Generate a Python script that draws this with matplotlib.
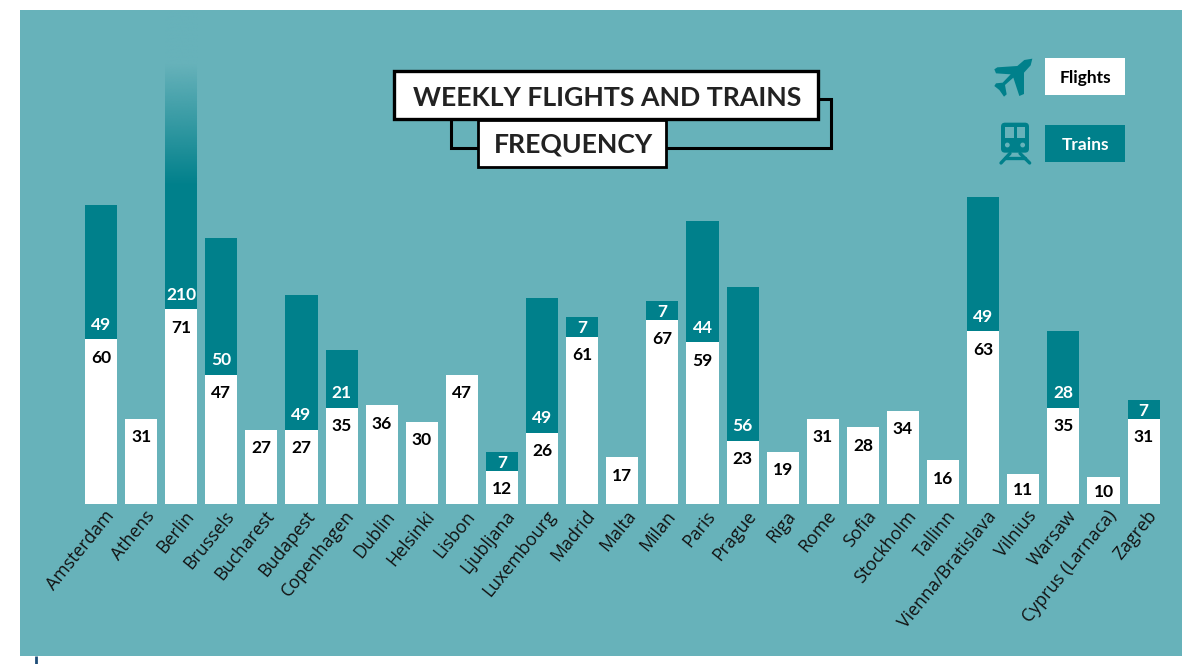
import numpy as np
import matplotlib
matplotlib.use("Agg")
import matplotlib.pyplot as plt
from matplotlib.patches import Rectangle, Polygon, FancyBboxPatch, Circle
from matplotlib.transforms import ScaledTranslation

cities = ["Amsterdam", "Athens", "Berlin", "Brussels", "Bucharest", "Budapest", "Copenhagen",
          "Dublin", "Helsinki", "Lisbon", "Ljubljana", "Luxembourg", "Madrid", "Malta", "Milan",
          "Paris", "Prague", "Riga", "Rome", "Sofia", "Stockholm", "Tallinn", "Vienna/Bratislava",
          "Vilnius", "Warsaw", "Cyprus (Larnaca)", "Zagreb"]
flights = [60, 31, 71, 47, 27, 27, 35, 36, 30, 47, 12, 26, 61, 17, 67, 59, 23, 19, 31, 28, 34, 16, 63, 11, 35, 10, 31]
trains = [49, 0, 210, 50, 0, 49, 21, 0, 0, 0, 7, 49, 7, 0, 7, 44, 56, 0, 0, 0, 0, 0, 49, 0, 28, 0, 7]

BG = "#67B2BA"
TEAL = "#00808B"
BOLD = "Lato"
W, H = 1182, 664
fig = plt.figure(figsize=(W / 100, H / 100), dpi=100, facecolor="white")

PX_UNIT, STEP, X0, BASE = 2.745, 40.1, 101, 504
ax = fig.add_axes([20 / W, 1 - 656 / H, (W - 20) / W, 646 / H], facecolor=BG)
xlim = ((20 - X0) / STEP, (W - X0) / STEP)
ylim = ((BASE - 656) / PX_UNIT, (BASE - 10) / PX_UNIT)
x = np.arange(len(cities))
ax.bar(x, flights, width=0.8, color="white", zorder=2)
ax.bar(x, trains, width=0.8, bottom=flights, color=TEAL, zorder=2)

# fade-out of the cut-off Berlin bar
berlin = cities.index("Berlin")
fade = np.zeros((256, 1, 4))
fade[..., :3] = matplotlib.colors.to_rgb(BG)
ys = np.linspace(ylim[1], 116, 256)
fade[:, 0, 3] = np.clip((ys - 116) / (160 - 116), 0, 1)
ax.imshow(fade, extent=(berlin - 0.41, berlin + 0.41, 116, ylim[1]), origin="upper",
          aspect="auto", zorder=3, interpolation="bilinear")
ax.set_xlim(*xlim)
ax.set_ylim(*ylim)

for i, (f, t) in enumerate(zip(flights, trains)):
    off = min(17, f * PX_UNIT / 2)
    ax.annotate(str(f), (i, f), xytext=(0, -off * 0.72), textcoords="offset points", ha="center",
                va="center_baseline", fontsize=12.5, family=BOLD, weight="bold", color="black", zorder=4)
    if t:
        off = min(16, t * PX_UNIT / 2)
        ax.annotate(str(t), (i, f), xytext=(0, off * 0.72), textcoords="offset points", ha="center",
                    va="center_baseline", fontsize=12.5, family=BOLD, weight="bold", color="white", zorder=4)

for s in ax.spines.values():
    s.set_visible(False)
ax.set_yticks([])
ax.set_xticks(x)
ax.set_xticklabels(cities, rotation=51, ha="right", va="center", rotation_mode="anchor",
                   fontsize=12.8, family="Open Sans", color="#111111")
ax.tick_params(axis="x", length=0, pad=0)
shift = ScaledTranslation(10 / 100, (656 - 513) / 100, fig.dpi_scale_trans)
for lab in ax.get_xticklabels():
    lab.set_transform(lab.get_transform() + shift)

# overlay in pixel coordinates for title, legend and icons
ov = fig.add_axes([0, 0, 1, 1], facecolor="none", zorder=5)
ov.set_xlim(0, W)
ov.set_ylim(H, 0)
ov.axis("off")

# stray rule under the panel
ov.plot([36, 36], [656, 664], color="#1F4E79", lw=2, solid_capstyle="butt")

# title
ov.plot([819, 831, 831, 667], [99, 99, 147.5, 147.5], color="black", lw=2.2, solid_joinstyle="miter", zorder=1)
ov.plot([451, 451, 478], [120, 147.5, 147.5], color="black", lw=2.2, solid_joinstyle="miter", zorder=1)
ov.add_patch(Rectangle((393.5, 70.5), 424, 48.5, fc="white", ec="black", lw=2.4, zorder=2))
ov.add_patch(Rectangle((478, 120), 188, 47, fc="white", ec="black", lw=2, zorder=2))
ov.text(607.5, 98, "WEEKLY FLIGHTS AND TRAINS", ha="center", va="center", fontsize=19.2,
        family=BOLD, weight="bold", color="#222222", zorder=3)
ov.text(574, 145, "FREQUENCY", ha="center", va="center", fontsize=19.2,
        family=BOLD, weight="bold", color="#222222", zorder=3)

# legend
ov.add_patch(Rectangle((1045, 58), 80, 37, fc="white", ec="none"))
ov.add_patch(Rectangle((1045, 125), 80, 37, fc=TEAL, ec="none"))
ov.text(1085, 78, "Flights", ha="center", va="center", fontsize=12.5, family=BOLD, weight="bold", color="black")
ov.text(1085, 145, "Trains", ha="center", va="center", fontsize=12.5, family=BOLD, weight="bold", color="white")

# plane icon
z = lambda pts: [(960 + a / 3, 30 + b / 3) for a, b in pts]
ov.add_patch(Polygon(z([(217, 86), (212, 106), (192, 128), (192, 192), (178, 198), (160, 143), (135, 165),
                        (140, 193), (132, 200), (118, 180), (103, 168), (108, 160), (128, 158), (152, 133),
                        (108, 130), (103, 118), (112, 112), (172, 108), (193, 90)]),
                     closed=True, fc=TEAL, ec="none"))
# train icon
ov.add_patch(FancyBboxPatch((960 + 123 / 3, 30 + 278 / 3), 84 / 3, 90 / 3,
                            boxstyle="round,pad=0,rounding_size=4", fc=TEAL, ec="none"))
for a, b in [(134, 162), (170, 196)]:
    ov.add_patch(Rectangle((960 + a / 3, 30 + 292 / 3), (b - a) / 3, 33 / 3, fc=BG, ec="none"))
for a in (142, 188):
    ov.add_patch(Circle((960 + a / 3, 30 + 345 / 3), 2.4, fc=BG, ec="none"))
for xs_, ys_ in [((150, 123), (370, 399)), ((180, 209), (370, 399)), ((135, 195), (383, 383))]:
    pts = z(list(zip(xs_, ys_)))
    ov.plot([p[0] for p in pts], [p[1] for p in pts], color=TEAL, lw=2.4, solid_capstyle="round")

fig.savefig("out.png", dpi=100)
